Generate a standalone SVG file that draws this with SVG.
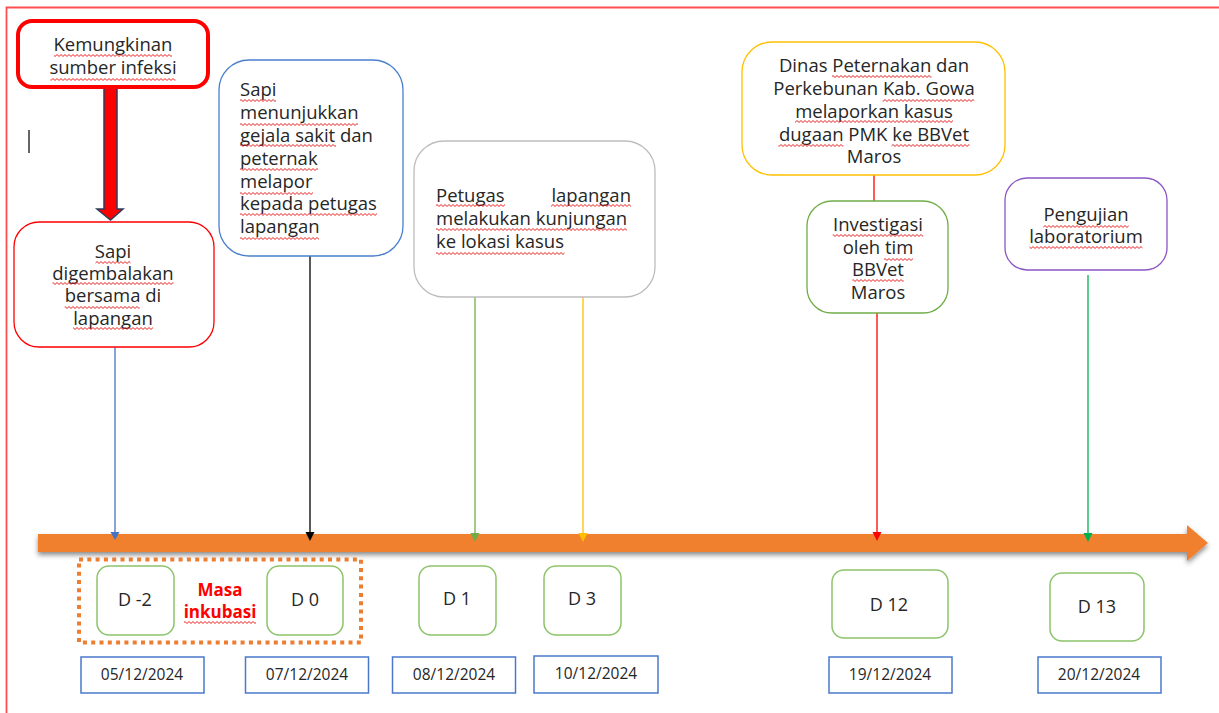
<svg xmlns="http://www.w3.org/2000/svg" width="1219" height="713" viewBox="0 0 1219 713">
<style>
.t{font-family:"Open Sans","DejaVu Sans",sans-serif;font-size:18.5px;fill:#262626}
.c{text-anchor:middle}
.d{font-family:"Open Sans","DejaVu Sans",sans-serif;font-size:18px;fill:#262626;text-anchor:middle}
.dt{font-family:"Open Sans","DejaVu Sans",sans-serif;font-size:15.5px;fill:#262626;text-anchor:middle}
.box{fill:#fff;stroke-width:1.3}
.dbox{fill:#fff;stroke:#8cc46a;stroke-width:1.5}
.datebox{fill:#fff;stroke:#4a78cc;stroke-width:1.5}
.con{fill:none;stroke-width:1.3}
.sq{fill:url(#wave)}
</style>
<defs>
<filter id="sh" x="-5%" y="-50%" width="110%" height="200%">
<feDropShadow dx="0" dy="3" stdDeviation="2.5" flood-color="#000" flood-opacity="0.45"/>
</filter>
<pattern id="wave" patternUnits="userSpaceOnUse" x="0" y="0" width="4" height="3">
<path d="M-1 2.5 L1 0.5 L3 2.5 L5 0.5" fill="none" stroke="#e81818" stroke-width="1"/>
</pattern>
</defs>
<rect x="0" y="0" width="1219" height="713" fill="#fff"/>
<path d="M6.5 713 V7.5 H1219" fill="none" stroke="#ff5050" stroke-width="1.8"/>
<line x1="29" y1="130" x2="29" y2="153" stroke="#111" stroke-width="1.3"/>

<g id="timeline">
<path d="M38 534 H1187 V525 L1208 543 L1187 561 V552 H38 Z" fill="#f07f2f" filter="url(#sh)"/>
</g>

<g id="connectors">
<path d="M104 88 H117 V209 H123 L110.5 220 L97 209 H104 Z" fill="#ff0000" stroke="#2f3b5c" stroke-width="1.5"/>
<line class="con" x1="115" y1="347" x2="115" y2="533" stroke="#4472c4"/>
<path d="M110.5 532 L119.5 532 L115 540 Z" fill="#4472c4"/>
<line class="con" x1="310" y1="256" x2="310" y2="533" stroke="#000"/>
<path d="M305.5 532 L314.5 532 L310 541 Z" fill="#000"/>
<line class="con" x1="475" y1="297" x2="475" y2="534" stroke="#70ad47"/>
<path d="M470.5 533 L479.5 533 L475 542 Z" fill="#70ad47"/>
<line class="con" x1="583" y1="297" x2="583" y2="534" stroke="#ffc000"/>
<path d="M578.5 533 L587.5 533 L583 542 Z" fill="#ffc000"/>
<line class="con" x1="874" y1="175" x2="874" y2="201" stroke="#ff0000"/>
<line class="con" x1="877" y1="313" x2="877" y2="533" stroke="#ff0000"/>
<path d="M872.5 532 L881.5 532 L877 541 Z" fill="#ff0000"/>
<line class="con" x1="1088" y1="275" x2="1088" y2="534" stroke="#00b050"/>
<path d="M1083.5 533 L1092.5 533 L1088 542 Z" fill="#00b050"/>
</g>

<g id="n-sumber">
<rect x="18" y="21" width="190" height="66" rx="14" fill="#fff" stroke="#ff0000" stroke-width="4"/>
<text class="t c" x="113" y="51">Kemungkinan</text>
<text class="t c" x="113" y="74">sumber infeksi</text>
<rect class="sq" x="54" y="54" width="118" height="3"/>
<rect class="sq" x="50.5" y="78" width="125" height="3"/>
</g>

<g id="n-gembala">
<rect class="box" x="14" y="222" width="200" height="125" rx="25" stroke="#ff0000"/>
<text class="t c" x="113" y="258">Sapi</text>
<text class="t c" x="113" y="280">digembalakan</text>
<text class="t c" x="113" y="302">bersama di</text>
<text class="t c" x="113" y="325">lapangan</text>
<rect class="sq" x="95.5" y="261" width="35" height="3"/>
<rect class="sq" x="52.5" y="282" width="121" height="3"/>
<rect class="sq" x="64.7" y="306" width="75" height="3"/>
<rect class="sq" x="73" y="327" width="80" height="3"/>
</g>

<g id="n-gejala">
<rect class="box" x="219" y="60" width="184" height="196" rx="30" stroke="#4a7fd0"/>
<text class="t" x="240" y="96">Sapi</text>
<text class="t" x="240" y="119">menunjukkan</text>
<text class="t" x="240" y="142">gejala sakit dan</text>
<text class="t" x="240" y="165">peternak</text>
<text class="t" x="240" y="188">melapor</text>
<text class="t" x="240" y="210">kepada petugas</text>
<text class="t" x="240" y="233">lapangan</text>
<rect class="sq" x="240" y="99" width="36" height="3"/>
<rect class="sq" x="240" y="123" width="118" height="3"/>
<rect class="sq" x="240" y="144" width="96" height="3"/>
<rect class="sq" x="240" y="168" width="78" height="3"/>
<rect class="sq" x="240" y="192" width="73" height="3"/>
<rect class="sq" x="240" y="213" width="137" height="3"/>
<rect class="sq" x="240" y="237" width="79" height="3"/>
</g>

<g id="n-petugas">
<rect class="box" x="414" y="141" width="241" height="156" rx="30" stroke="#bdbdbd"/>
<text class="t" x="436" y="202">Petugas</text>
<text class="t" x="631" y="202" text-anchor="end">lapangan</text>
<text class="t" x="436" y="225">melakukan kunjungan</text>
<text class="t" x="436" y="248">ke lokasi kasus</text>
<rect class="sq" x="436" y="204" width="69" height="3"/>
<rect class="sq" x="551" y="204" width="80" height="3"/>
<rect class="sq" x="436" y="228" width="191" height="3"/>
<rect class="sq" x="436" y="252" width="128.5" height="3"/>
</g>

<g id="n-dinas">
<rect class="box" x="742" y="42" width="263" height="133" rx="30" stroke="#ffc000"/>
<text class="t c" x="874" y="72">Dinas Peternakan dan</text>
<text class="t c" x="874" y="95">Perkebunan Kab. Gowa</text>
<text class="t c" x="874" y="118">melaporkan kasus</text>
<text class="t c" x="874" y="141">dugaan PMK ke BBVet</text>
<text class="t c" x="874" y="163">Maros</text>
<rect class="sq" x="832" y="75" width="99.5" height="3"/>
<rect class="sq" x="882.7" y="99" width="91.5" height="3"/>
<rect class="sq" x="795" y="120" width="158" height="3"/>
<rect class="sq" x="778.4" y="144" width="65" height="3"/>
<rect class="sq" x="891.5" y="144" width="78" height="3"/>
</g>

<g id="n-investigasi">
<rect class="box" x="807" y="201" width="141" height="112" rx="25" stroke="#70ad47"/>
<text class="t c" x="878" y="231">Investigasi</text>
<text class="t c" x="878" y="254">oleh tim</text>
<text class="t c" x="878" y="276">BBVet</text>
<text class="t c" x="878" y="299">Maros</text>
<rect class="sq" x="832.7" y="234" width="90.5" height="3"/>
<rect class="sq" x="884" y="258" width="29" height="3"/>
<rect class="sq" x="852.3" y="279" width="51.4" height="3"/>
</g>

<g id="n-lab">
<rect class="box" x="1005" y="178" width="162" height="92" rx="22" stroke="#8a55c4"/>
<text class="t c" x="1086" y="221">Pengujian</text>
<text class="t c" x="1086" y="243">laboratorium</text>
<rect class="sq" x="1043.3" y="225" width="85.4" height="3"/>
<rect class="sq" x="1029.5" y="246" width="113" height="3"/>
</g>

<g id="inkubasi">
<rect x="79" y="559.5" width="282" height="83" fill="none" stroke="#ed7d31" stroke-width="4" stroke-dasharray="4 4.3"/>
<text x="220" y="596" font-family="'Open Sans','DejaVu Sans',sans-serif" font-weight="700" font-size="17" fill="#ff0000" text-anchor="middle">Masa</text>
<text x="220" y="618" font-family="'Open Sans','DejaVu Sans',sans-serif" font-weight="700" font-size="17" fill="#ff0000" text-anchor="middle">inkubasi</text>
<rect class="sq" x="184" y="621" width="72" height="3"/>
</g>

<g id="d-m2"><rect class="dbox" x="97" y="566" width="77" height="69" rx="12"/><text class="d" x="135" y="606">D -2</text></g>
<g id="d-0"><rect class="dbox" x="267" y="566" width="76" height="69" rx="12"/><text class="d" x="305" y="606">D 0</text></g>
<g id="d-1"><rect class="dbox" x="419" y="566" width="77" height="69" rx="12"/><text class="d" x="457" y="605">D 1</text></g>
<g id="d-3"><rect class="dbox" x="544" y="566" width="77" height="69" rx="12"/><text class="d" x="582" y="605">D 3</text></g>
<g id="d-12"><rect class="dbox" x="832" y="570" width="116" height="68" rx="12"/><text class="d" x="889" y="611">D 12</text></g>
<g id="d-13"><rect class="dbox" x="1050" y="573" width="94" height="68" rx="12"/><text class="d" x="1097" y="613">D 13</text></g>

<g id="date-1"><rect class="datebox" x="81" y="657" width="123" height="36"/><text class="dt" x="142" y="680">05/12/2024</text></g>
<g id="date-2"><rect class="datebox" x="245.5" y="657" width="123" height="36"/><text class="dt" x="307" y="680">07/12/2024</text></g>
<g id="date-3"><rect class="datebox" x="392.5" y="657" width="123" height="36"/><text class="dt" x="454" y="680">08/12/2024</text></g>
<g id="date-4"><rect class="datebox" x="534" y="656" width="124" height="37"/><text class="dt" x="596" y="679">10/12/2024</text></g>
<g id="date-5"><rect class="datebox" x="829" y="657" width="123" height="36"/><text class="dt" x="890" y="680">19/12/2024</text></g>
<g id="date-6"><rect class="datebox" x="1038" y="657" width="123" height="36"/><text class="dt" x="1099" y="680">20/12/2024</text></g>
</svg>
